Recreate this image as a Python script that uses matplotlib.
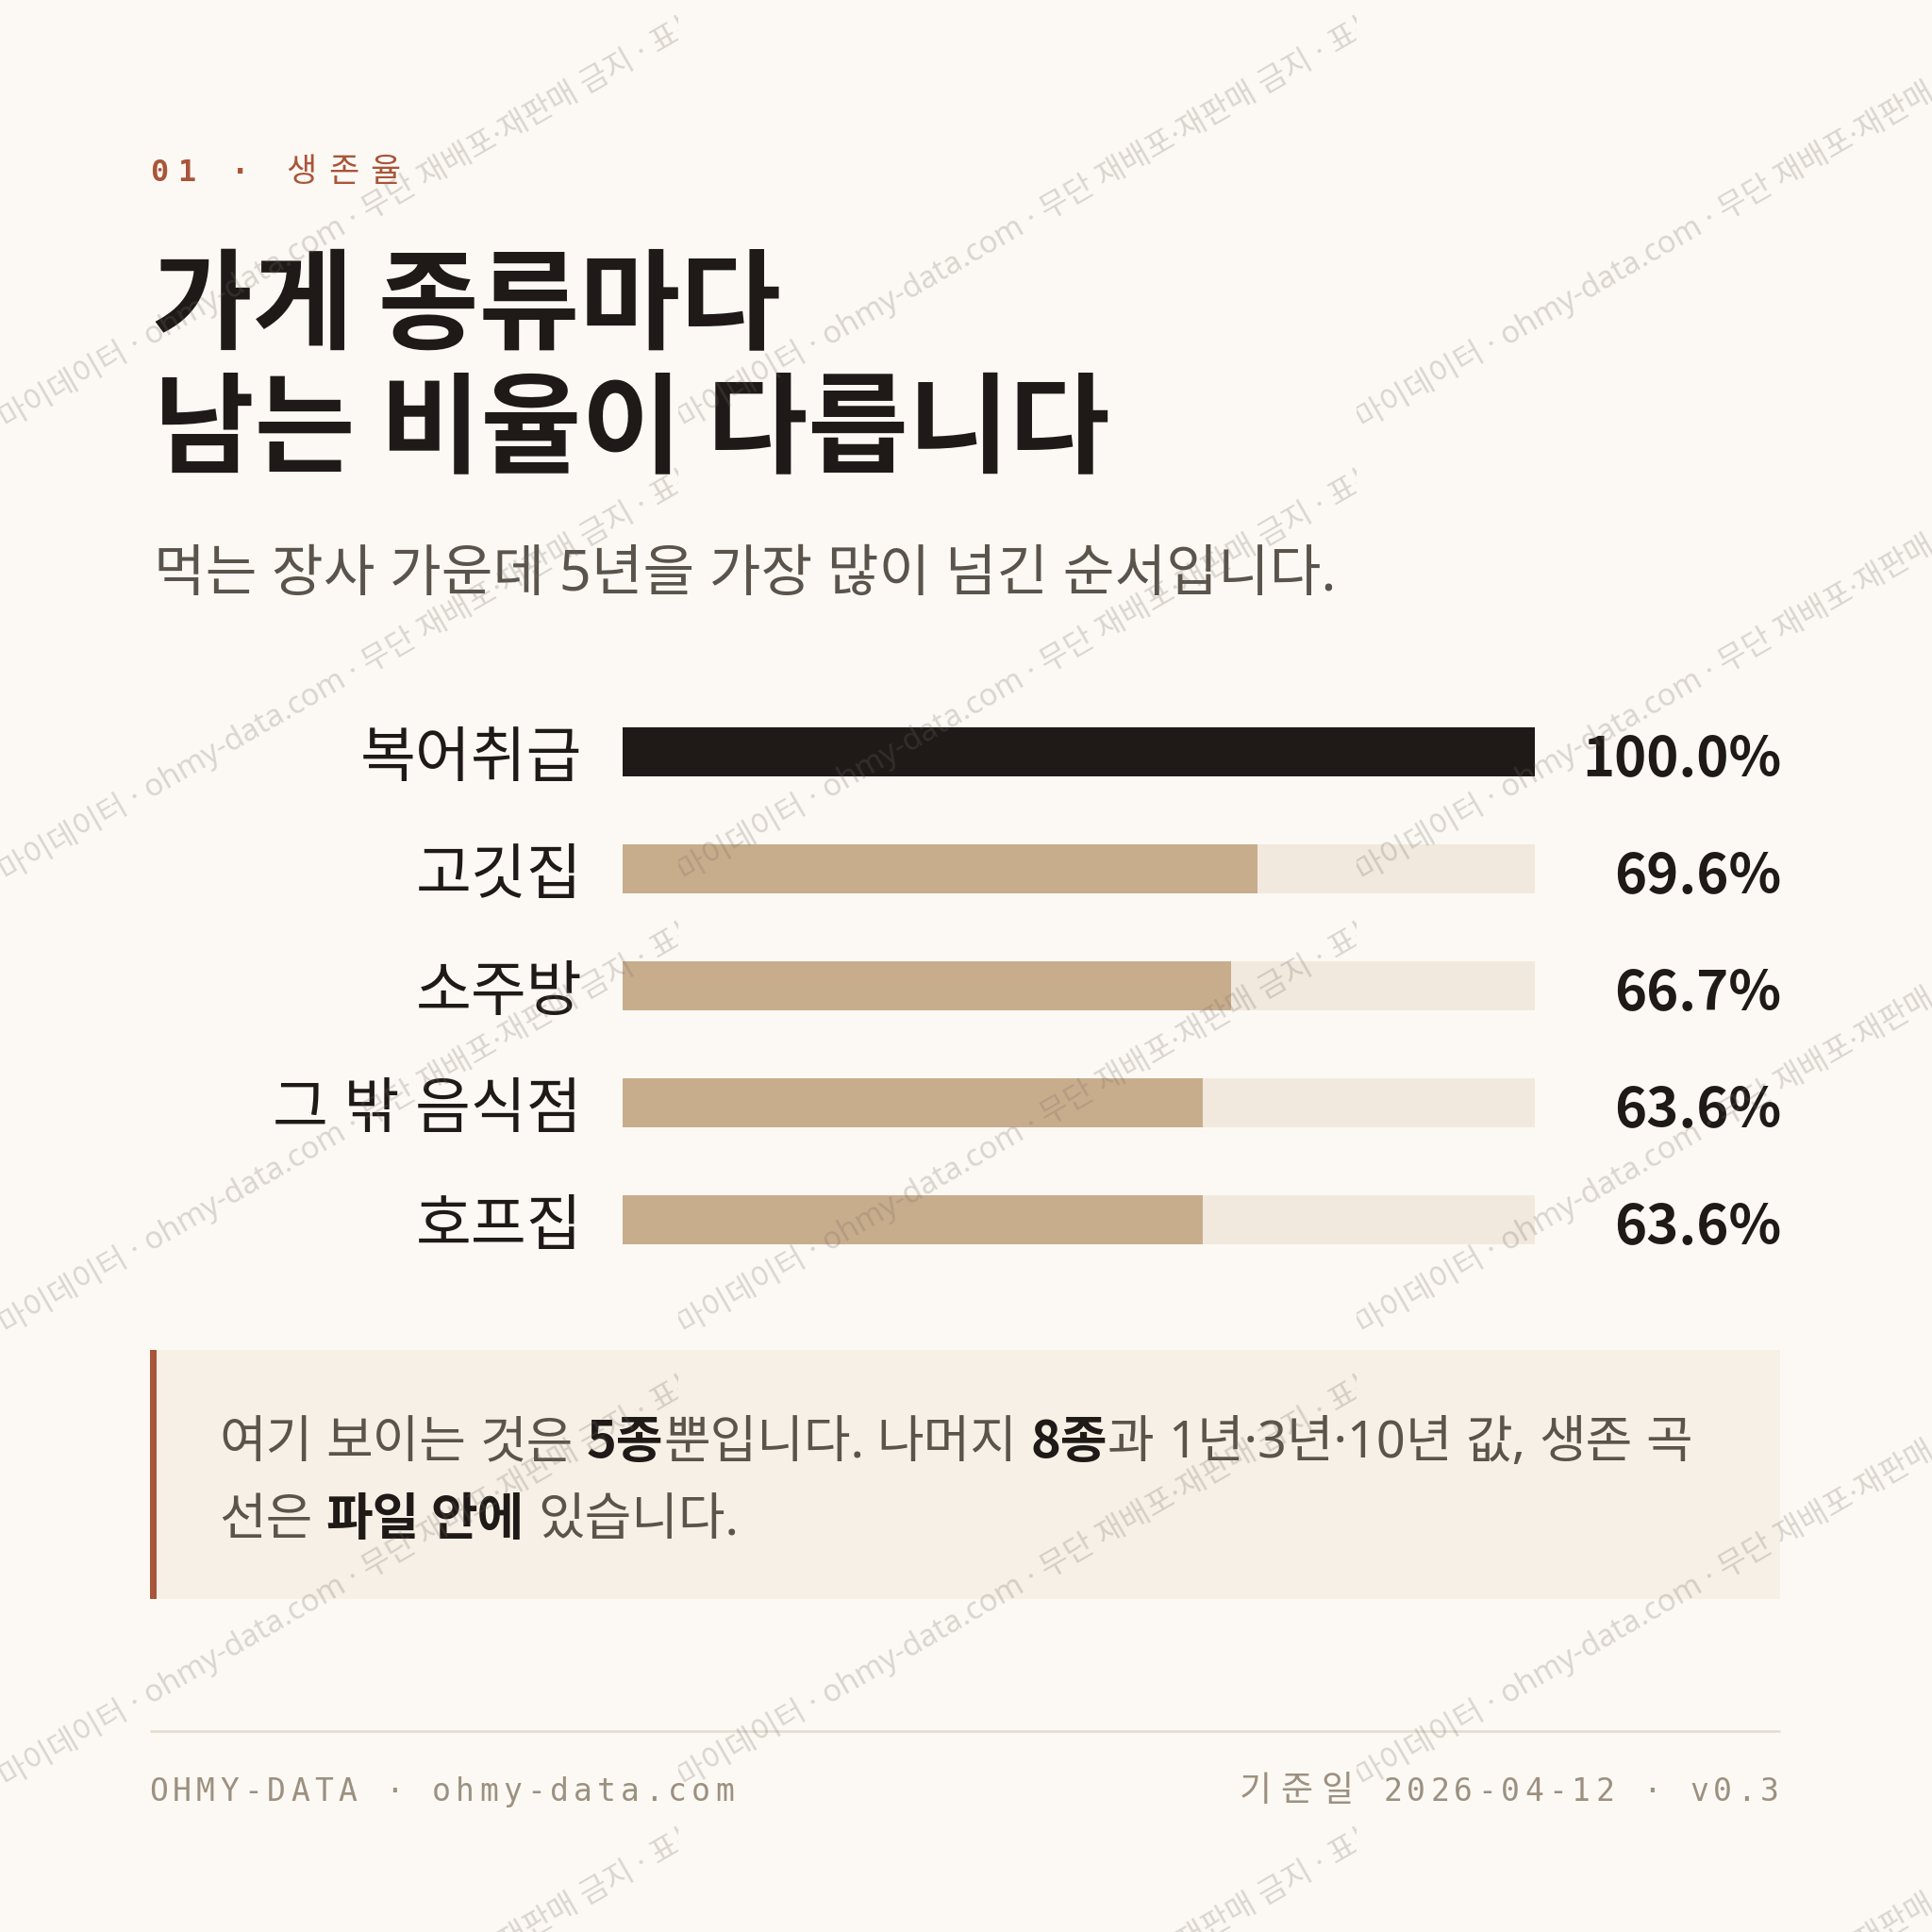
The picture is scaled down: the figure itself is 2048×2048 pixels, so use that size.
import matplotlib
matplotlib.use('Agg')
import matplotlib.pyplot as plt
from matplotlib import transforms
from matplotlib.patches import Rectangle
from matplotlib.font_manager import FontProperties
from matplotlib.transforms import Bbox

# ---------------- data ----------------
categories = ['복어취급', '고깃집', '소주방', '그 밖 음식점', '호프집']
survival_5y = [100.0, 69.6, 66.7, 63.6, 63.6]

kicker = '01 · 생존율'
title_lines = ['가게 종류마다', '남는 비율이 다릅니다']
subtitle = '먹는 장사 가운데 5년을 가장 많이 넘긴 순서입니다.'
note_line1 = [('여기 보이는 것은 ', False), ('5종', True), ('뿐입니다. 나머지 ', False),
              ('8종', True), ('과 1년·3년·10년 값, 생존 곡', False)]
note_line2 = [('선은 ', False), ('파일 안에', True), (' 있습니다.', False)]
footer_left = 'OHMY-DATA · ohmy-data.com'
footer_right = '기준일 2026-04-12 · v0.3'
watermark = '마이데이터 · ohmy-data.com · 무단 재배포·재판매 금지 · 표본 데이터'

# ---------------- style ----------------
W = H = 2048
DPI = 200
BG = '#fcf9f4'
DARK = '#1f1a17'
TAN = '#c8ad8d'
TRACK = '#f1e9dd'
RUST = '#a9553a'
GRAY = '#5b544c'
FOOT = '#9c9080'
NOTE_BG = '#f7f0e6'
LINE = '#e4dccd'
KR = ['Noto Sans CJK KR', 'DejaVu Sans']
KR_LAT = ['Noto Sans', 'Noto Sans CJK KR', 'DejaVu Sans']
MONO = ['DejaVu Sans Mono', 'Noto Sans CJK KR']


def pt(px):
    return px * 72.0 / DPI


def is_kor(c):
    return '\uac00' <= c <= '\ud7a3'


fig = plt.figure(figsize=(W / DPI, H / DPI), dpi=DPI, facecolor=BG)
bg = fig.add_axes([0, 0, 1, 1])
bg.set_xlim(0, W)
bg.set_ylim(H, 0)
bg.axis('off')
bg.set_zorder(0)
renderer = fig.canvas.get_renderer()


def spaced_line(ax, s, x, y, a, k, size_px, kor_px, color, ascii_weight='normal',
                align='left'):
    total = sum(k if is_kor(c) else a for c in s)
    cur = x if align == 'left' else x - total
    for c in s:
        adv = k if is_kor(c) else a
        if c != ' ':
            if is_kor(c):
                ax.text(cur + adv / 2, y, c, ha='center', va='baseline',
                        fontsize=pt(kor_px), family=KR, color=color)
            else:
                ax.text(cur + adv / 2, y, c, ha='center', va='baseline',
                        fontsize=pt(size_px), family=MONO, color=color,
                        weight=ascii_weight)
        cur += adv


# header kicker
spaced_line(bg, kicker, 154.75, 192, 28.5, 44.5, 32, 35, RUST, ascii_weight='bold')

# title
bg.text(161, 361, title_lines[0], fontsize=pt(116), weight='bold', family=KR,
        color=DARK, va='baseline', ha='left')
bg.text(163, 491, title_lines[1], fontsize=pt(116), weight='bold', family=KR,
        color=DARK, va='baseline', ha='left')

# subtitle
bg.text(163, 626, subtitle, fontsize=pt(59.5), family=KR_LAT, color=GRAY,
        va='baseline', ha='left')

# note box
bg.add_patch(Rectangle((159, 1431), 1887 - 159, 1695 - 1431, facecolor=NOTE_BG,
                       edgecolor='none', zorder=1))
bg.add_patch(Rectangle((159, 1431), 7, 1695 - 1431, facecolor=RUST,
                       edgecolor='none', zorder=2))


def advance(s, prop):
    w1, _, _ = renderer.get_text_width_height_descent('|' + s + '|', prop, ismath=False)
    w0, _, _ = renderer.get_text_width_height_descent('||', prop, ismath=False)
    return w1 - w0


def draw_runs(ax, runs, x, y, size_px):
    cur = x
    for txt, bold in runs:
        if bold:
            prop = FontProperties(family=KR, size=pt(size_px), weight='bold')
            color = DARK
        else:
            prop = FontProperties(family=KR_LAT, size=pt(size_px))
            color = GRAY
        tokens = []
        buf = ''
        for ch in txt:
            if ch == ' ':
                if buf:
                    tokens.append(buf)
                    buf = ''
                tokens.append(' ')
            else:
                buf += ch
        if buf:
            tokens.append(buf)
        for tok in tokens:
            if tok != ' ':
                ax.text(cur, y, tok, fontproperties=prop, color=color,
                        va='baseline', ha='left', zorder=3)
            cur += advance(tok, prop)


draw_runs(bg, note_line1, 232, 1545, 54)
draw_runs(bg, note_line2, 232, 1627, 54)

# footer
bg.plot([159, 1887], [1835, 1835], color=LINE, lw=pt(2.5), solid_capstyle='butt')
spaced_line(bg, footer_left, 155.5, 1909, 25, 43, 33, 37, FOOT)
spaced_line(bg, footer_right, 1888.5, 1909, 25, 43, 33, 37, FOOT, align='right')

# ---------------- bar chart ----------------
bx0, bx1 = 660, 1627
by_top, by_bot = 735, 1355
ax = fig.add_axes([bx0 / W, 1 - by_bot / H, (bx1 - bx0) / W, (by_bot - by_top) / H])
ax.set_zorder(1)
ax.patch.set_alpha(0)
ypos = list(range(len(categories)))
bar_h = 52 / 124
ax.barh(ypos, [100] * len(categories), height=bar_h, color=TRACK, linewidth=0)
colors = [DARK] + [TAN] * (len(categories) - 1)
ax.barh(ypos, survival_5y, height=bar_h, color=colors, linewidth=0)
ax.set_xlim(0, 100)
ax.set_ylim(len(categories) - 0.5, -0.5)
ax.axis('off')

lab_tr = transforms.offset_copy(
    transforms.blended_transform_factory(ax.transAxes, ax.transData),
    fig=fig, x=-43, y=-26, units='dots')
val_tr = transforms.offset_copy(
    transforms.blended_transform_factory(ax.transAxes, ax.transData),
    fig=fig, x=1888 - bx1, y=-26, units='dots')
for i, (cat, v) in enumerate(zip(categories, survival_5y)):
    ax.text(0, i, cat, transform=lab_tr, ha='right', va='baseline',
            fontsize=pt(64), family=KR_LAT, color=DARK)
    ax.text(1, i, f'{v:.1f}%', transform=val_tr, ha='right', va='baseline',
            fontsize=pt(58), family=KR, weight='bold', color=DARK)

# ---------------- watermark overlay ----------------
ov = fig.add_axes([0, 0, 1, 1])
ov.set_xlim(0, W)
ov.set_ylim(H, 0)
ov.axis('off')
ov.patch.set_alpha(0)
ov.set_zorder(5)
TW, TH = 719, 480
for col in range(3):
    for row in range(5):
        x0, y0 = col * TW, row * TH
        t = ov.text(x0 + 2, y0 + 447, watermark, rotation=30, rotation_mode='anchor',
                    ha='left', va='center', fontsize=pt(32.8), family=KR_LAT,
                    color=(0.45, 0.42, 0.38), alpha=0.25, clip_on=True)
        t.set_clip_box(Bbox.from_extents(x0, H - min(y0 + TH, H), x0 + TW, H - y0))

fig.savefig('out.png', dpi=DPI, facecolor=BG)
